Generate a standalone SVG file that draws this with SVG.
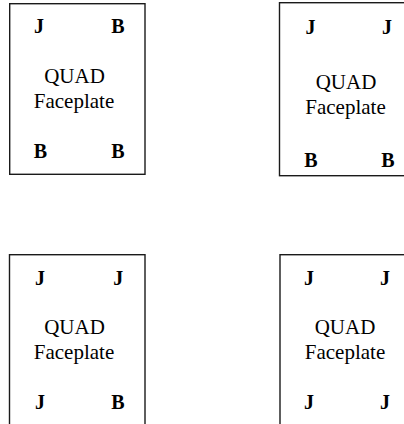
<svg xmlns="http://www.w3.org/2000/svg" width="404" height="424" viewBox="0 0 404 424">
<style>
.box{fill:#fff;stroke:#1a1a1a;stroke-width:1.4}
.pin{font-family:"Liberation Serif","Times New Roman",serif;font-weight:bold;font-size:20px;text-anchor:middle;fill:#000}
.lbl{font-family:"Liberation Serif","Times New Roman",serif;font-size:21px;text-anchor:middle;fill:#000}
</style>
<rect width="404" height="424" fill="#fff"/>
<g id="faceplate1">
<rect class="box" x="9.7" y="3.7" width="135.3" height="170.6"/>
<text class="pin" x="39" y="33">J</text>
<text class="pin" x="118" y="33">B</text>
<text class="lbl" x="74.5" y="82.5">QUAD</text>
<text class="lbl" x="74" y="107.5">Faceplate</text>
<text class="pin" x="40.5" y="157.5">B</text>
<text class="pin" x="118" y="157.5">B</text>
</g>
<g id="faceplate2">
<rect class="box" x="279.5" y="2.7" width="130" height="173"/>
<text class="pin" x="310.5" y="33.5">J</text>
<text class="pin" x="387" y="33.5">J</text>
<text class="lbl" x="346" y="88.5">QUAD</text>
<text class="lbl" x="345.5" y="113.5">Faceplate</text>
<text class="pin" x="311" y="166.5">B</text>
<text class="pin" x="388" y="166.5">B</text>
</g>
<g id="faceplate3">
<rect class="box" x="9.5" y="254.7" width="135.5" height="200"/>
<text class="pin" x="40" y="285">J</text>
<text class="pin" x="118.3" y="285">J</text>
<text class="lbl" x="74.5" y="333.5">QUAD</text>
<text class="lbl" x="74" y="358.5">Faceplate</text>
<text class="pin" x="40" y="408.5">J</text>
<text class="pin" x="118" y="408.5">B</text>
</g>
<g id="faceplate4">
<rect class="box" x="280" y="254.7" width="140" height="200"/>
<text class="pin" x="309" y="285">J</text>
<text class="pin" x="385" y="285">J</text>
<text class="lbl" x="345" y="334">QUAD</text>
<text class="lbl" x="345" y="359">Faceplate</text>
<text class="pin" x="309" y="408.5">J</text>
<text class="pin" x="385" y="408.5">J</text>
</g>
<g id="connectors"></g>
</svg>
